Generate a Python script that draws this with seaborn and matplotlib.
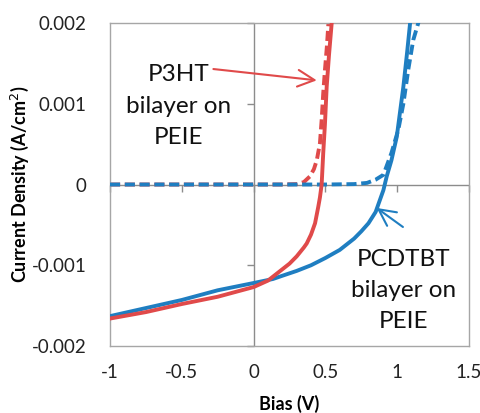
import numpy as np
import pandas as pd
import seaborn as sns
import matplotlib.pyplot as plt

# données (densité en mA/cm2, convertie plus bas)
p3ht_light_x = [-1, -0.75, -0.5, -0.25, 0, 0.1, 0.2, 0.25, 0.3, 0.35, 0.37, 0.4, 0.428, 0.45,
                0.462, 0.474, 0.485, 0.497, 0.509, 0.525, 0.544, 0.56]
p3ht_light_y = [-1.66, -1.58, -1.48, -1.39, -1.27, -1.19, -1.05, -0.98, -0.89, -0.78, -0.73,
                -0.62, -0.48, -0.28, -0.16, 0.0, 0.39, 0.75, 1.21, 1.6, 2.0, 2.3]

p3ht_dark_x = [-1, -0.5, 0, 0.2, 0.3, 0.35, 0.392, 0.42, 0.44, 0.462, 0.474, 0.485, 0.497,
               0.51, 0.525]
p3ht_dark_y = [0, 0, 0, 0, 0.005, 0.03, 0.10, 0.19, 0.30, 0.51, 0.80, 1.13, 1.42, 1.7, 2.1]

pcdtbt_light_x = [-1, -0.75, -0.5, -0.25, 0, 0.135, 0.2, 0.3, 0.4, 0.5, 0.6, 0.65, 0.7, 0.75,
                  0.8, 0.85, 0.88, 0.904, 0.927, 0.96, 0.997, 1.043, 1.07, 1.09, 1.11]
pcdtbt_light_y = [-1.63, -1.53, -1.43, -1.31, -1.22, -1.17, -1.13, -1.07, -1.00, -0.91, -0.81,
                  -0.74, -0.67, -0.58, -0.48, -0.34, -0.19, -0.07, 0.10, 0.30, 0.59, 1.21,
                  1.65, 2.0, 2.3]

pcdtbt_dark_x = [-1, -0.5, 0, 0.5, 0.7, 0.79, 0.85, 0.904, 0.96, 1.008, 1.043, 1.077, 1.112,
                 1.147, 1.16]
pcdtbt_dark_y = [0, 0, 0, 0, 0.005, 0.02, 0.06, 0.12, 0.39, 0.68, 1.0, 1.42, 1.79, 2.0, 2.1]

x_ticks = [-1, -0.5, 0, 0.5, 1, 1.5]
x_labels = ["-1", "-0.5", "0", "0.5", "1", "1.5"]
y_ticks = [-0.002, -0.001, 0, 0.001, 0.002]
y_labels = ["-0.002", "-0.001", "0", "0.001", "0.002"]

red = "#E04A4A"
blue = "#1F7EC1"

plt.rcParams["font.family"] = ["Lato", "DejaVu Sans"]

fig = plt.figure(figsize=(4.81, 4.13), dpi=100)
ax = fig.add_axes([0.2287, 0.1622, 0.7463, 0.7821])

# axes à zéro (style Excel)
ax.axhline(0, color="#8C8C8C", lw=1, zorder=1)
ax.axvline(0, color="#8C8C8C", lw=1, zorder=1)
ax.plot(np.zeros(len(y_ticks)), y_ticks, ls="none", marker=0, ms=5, mew=1,
        color="#8C8C8C", zorder=1, clip_on=False)
ax.plot(x_ticks, np.zeros(len(x_ticks)), ls="none", marker=3, ms=5, mew=1,
        color="#8C8C8C", zorder=1, clip_on=False)

dash = (0, (2.6, 1.2))
sns.lineplot(x=p3ht_dark_x, y=np.array(p3ht_dark_y) * 1e-3, color=red, lw=2.8,
             linestyle=dash, ax=ax, zorder=2)
sns.lineplot(x=pcdtbt_dark_x, y=np.array(pcdtbt_dark_y) * 1e-3, color=blue, lw=2.8,
             linestyle=dash, ax=ax, zorder=3)
sns.lineplot(x=pcdtbt_light_x, y=np.array(pcdtbt_light_y) * 1e-3, color=blue, lw=2.8,
             ax=ax, zorder=4)
sns.lineplot(x=p3ht_light_x, y=np.array(p3ht_light_y) * 1e-3, color=red, lw=2.8,
             ax=ax, zorder=5)

ax.set_xlim(-1, 1.5)
ax.set_ylim(-0.002, 0.002)
ax.set_xticks(x_ticks)
ax.set_xticklabels(x_labels)
ax.set_yticks(y_ticks)
ax.set_yticklabels(y_labels)
ax.tick_params(length=0, labelsize=13.5, colors="#222222", pad=13)
ax.tick_params(axis="y", pad=17)
for s in ax.spines.values():
    s.set_color("#A6A6A6")
    s.set_linewidth(1)

ax.set_xlabel("Bias (V)", fontsize=13, fontweight="bold", labelpad=10)
ax.set_ylabel("Current Density (A/cm$^2$)", fontsize=13, fontweight="bold")
ax.yaxis.set_label_coords(-0.22, 0.5)

# annotations
ax.text(-0.52, 0.00097, "P3HT\nbilayer on\nPEIE", fontsize=17.5, ha="center", va="center",
        linespacing=1.6, color="#111111")
ax.annotate("", xy=(0.44, 0.00129), xytext=(-0.28, 0.00143),
            arrowprops=dict(arrowstyle="->,head_length=0.8,head_width=0.4", color=red,
                            lw=1.5, mutation_scale=15, shrinkA=0, shrinkB=0))
ax.text(1.047, -0.00131, "PCDTBT\nbilayer on\nPEIE", fontsize=17.5, ha="center", va="center",
        linespacing=1.6, color="#111111")
ax.annotate("", xy=(0.857, -0.00029), xytext=(1.04, -0.000526),
            arrowprops=dict(arrowstyle="->,head_length=0.8,head_width=0.4", color=blue,
                            lw=1.5, mutation_scale=15, shrinkA=0, shrinkB=0))

fig.savefig("out.png", dpi=100)
